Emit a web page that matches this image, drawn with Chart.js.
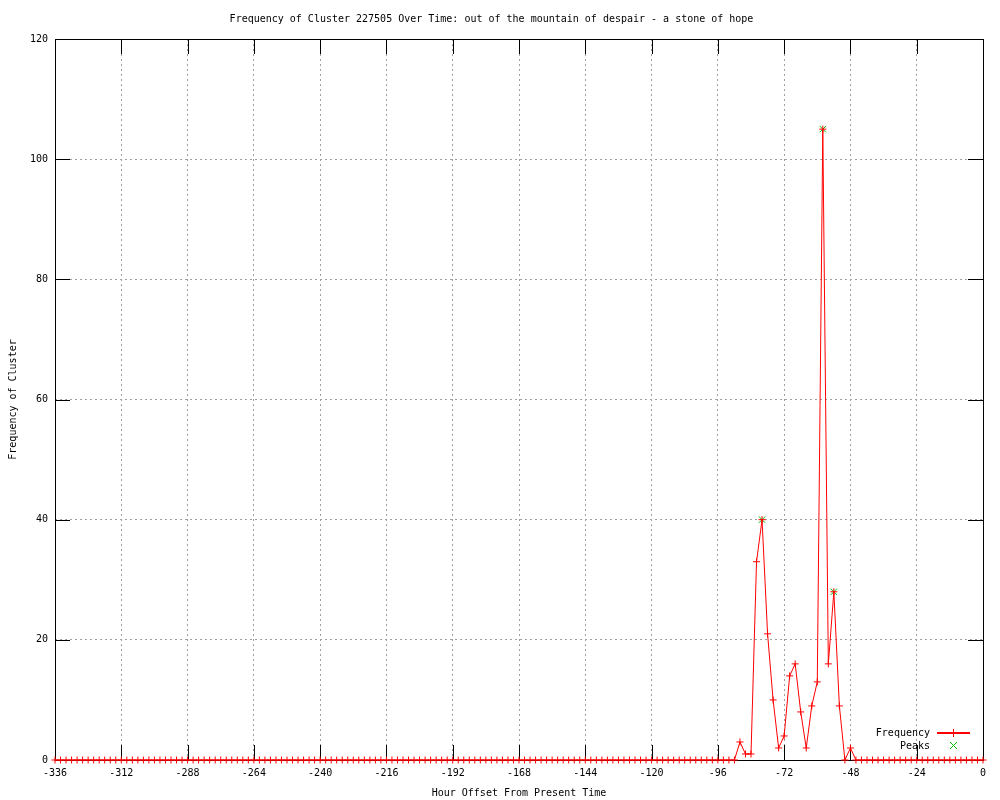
<!DOCTYPE html>
<html><head><meta charset="utf-8">
<script src="https://cdn.jsdelivr.net/npm/chart.js@4.4.0/dist/chart.umd.min.js"></script>
<style>html,body{margin:0;padding:0;background:#fff}#wrap{width:1000px;height:800px}</style>
</head><body><div id="wrap"><canvas id="c" width="1000" height="800"></canvas></div>
<script>
const titleText = 'Frequency of Cluster 227505 Over Time: out of the mountain of despair - a stone of hope';
const xTitle = 'Hour Offset From Present Time';
const yTitle = 'Frequency of Cluster';

const hours = [
  -336,-334,-332,-330,-328,-326,-324,-322,-320,-318,-316,-314,
  -312,-310,-308,-306,-304,-302,-300,-298,-296,-294,-292,-290,
  -288,-286,-284,-282,-280,-278,-276,-274,-272,-270,-268,-266,
  -264,-262,-260,-258,-256,-254,-252,-250,-248,-246,-244,-242,
  -240,-238,-236,-234,-232,-230,-228,-226,-224,-222,-220,-218,
  -216,-214,-212,-210,-208,-206,-204,-202,-200,-198,-196,-194,
  -192,-190,-188,-186,-184,-182,-180,-178,-176,-174,-172,-170,
  -168,-166,-164,-162,-160,-158,-156,-154,-152,-150,-148,-146,
  -144,-142,-140,-138,-136,-134,-132,-130,-128,-126,-124,-122,
  -120,-118,-116,-114,-112,-110,-108,-106,-104,-102,-100,-98,
  -96,-94,-92,-90,-88,-86,-84,-82,-80,-78,-76,-74,
  -72,-70,-68,-66,-64,-62,-60,-58,-56,-54,-52,-50,
  -48,-46,-44,-42,-40,-38,-36,-34,-32,-30,-28,-26,
  -24,-22,-20,-18,-16,-14,-12,-10,-8,-6,-4,-2,
  0
];
const frequency = [
  0,0,0,0,0,0,0,0,0,0,0,0,
  0,0,0,0,0,0,0,0,0,0,0,0,
  0,0,0,0,0,0,0,0,0,0,0,0,
  0,0,0,0,0,0,0,0,0,0,0,0,
  0,0,0,0,0,0,0,0,0,0,0,0,
  0,0,0,0,0,0,0,0,0,0,0,0,
  0,0,0,0,0,0,0,0,0,0,0,0,
  0,0,0,0,0,0,0,0,0,0,0,0,
  0,0,0,0,0,0,0,0,0,0,0,0,
  0,0,0,0,0,0,0,0,0,0,0,0,
  0,0,0,0,3,1,1,33,40,21,10,2,
  4,14,16,8,2,9,13,105,16,28,9,0,
  2,0,0,0,0,0,0,0,0,0,0,0,
  0,0,0,0,0,0,0,0,0,0,0,0,
  0
];
const peakHours = [-80, -58, -54];
const peakValues = [40, 105, 28];
const xTickValues = [-336,-312,-288,-264,-240,-216,-192,-168,-144,-120,-96,-72,-48,-24,0];
const yTickValues = [0,20,40,60,80,100,120];

Chart.defaults.font.family = 'DejaVu Sans Mono';
Chart.defaults.font.size = 10;
Chart.defaults.color = '#000';

const framePlugin = {
  id: 'frame',
  beforeDatasetsDraw(chart) {
    const {ctx, chartArea: a, scales} = chart;
    ctx.save();
    ctx.setLineDash([]);
    ctx.strokeStyle = '#000';
    ctx.lineWidth = 1;
    ctx.beginPath();
    const T = 15;
    scales.x.ticks.forEach(t => {
      const px = Math.round(scales.x.getPixelForValue(t.value)) + 0.5;
      ctx.moveTo(px, a.bottom); ctx.lineTo(px, a.bottom - T);
      ctx.moveTo(px, a.top); ctx.lineTo(px, a.top + T);
    });
    scales.y.ticks.forEach(t => {
      const py = Math.round(scales.y.getPixelForValue(t.value)) + 0.5;
      ctx.moveTo(a.left, py); ctx.lineTo(a.left + T, py);
      ctx.moveTo(a.right, py); ctx.lineTo(a.right - T, py);
    });
    ctx.stroke();
    ctx.strokeRect(Math.round(a.left) + 0.5, Math.round(a.top) + 0.5,
                   Math.round(a.right - a.left), Math.round(a.bottom - a.top));
    ctx.restore();
  },
  afterDraw(chart) {
    const {ctx} = chart;
    const ds = chart.data.datasets;
    ctx.save();
    ctx.setLineDash([]);
    ctx.font = '10px "DejaVu Sans Mono"';
    ctx.fillStyle = '#000';
    ctx.textAlign = 'right';
    ctx.textBaseline = 'middle';
    ctx.fillText(ds[0].label, 930, 733);
    ctx.fillText(ds[1].label, 930, 746);
    ctx.strokeStyle = 'rgb(255,0,0)';
    ctx.lineWidth = 2;
    ctx.beginPath();
    ctx.moveTo(937, 733); ctx.lineTo(970, 733);
    ctx.stroke();
    ctx.lineWidth = 1;
    ctx.beginPath();
    ctx.moveTo(953.5, 729); ctx.lineTo(953.5, 737);
    ctx.stroke();
    ctx.strokeStyle = 'rgb(0,192,0)';
    ctx.beginPath();
    ctx.moveTo(950, 742); ctx.lineTo(957, 749);
    ctx.moveTo(957, 742); ctx.lineTo(950, 749);
    ctx.stroke();
    ctx.restore();
  }
};

new Chart(document.getElementById('c'), {
  type: 'line',
  data: {
    datasets: [
      {
        label: 'Frequency',
        data: hours.map((h, i) => ({x: h, y: frequency[i]})),
        borderColor: '#ff0000',
        backgroundColor: '#ff0000',
        borderWidth: 1,
        tension: 0,
        pointStyle: 'cross',
        pointRadius: 3.5,
        pointBorderWidth: 1,
        pointBorderColor: '#ff0000',
        clip: false
      },
      {
        label: 'Peaks',
        data: peakHours.map((h, i) => ({x: h, y: peakValues[i]})),
        showLine: false,
        borderColor: '#00c000',
        backgroundColor: '#00c000',
        pointStyle: 'crossRot',
        pointRadius: 4.5,
        pointBorderWidth: 1,
        pointBorderColor: '#00c000',
        clip: false
      }
    ]
  },
  options: {
    responsive: false,
    animation: false,
    devicePixelRatio: 1,
    layout: {padding: {left: 0, right: 17, top: 0, bottom: 0}},
    plugins: {
      legend: {display: false},
      tooltip: {enabled: false},
      title: {
        display: true,
        text: titleText,
        color: '#000',
        font: {family: 'DejaVu Sans Mono', size: 10, weight: 'normal'},
        padding: {top: 13, bottom: 14}
      }
    },
    scales: {
      x: {
        type: 'linear',
        min: -336, max: 0,
        afterBuildTicks: s => { s.ticks = xTickValues.map(v => ({value: v})); },
        afterFit: s => { s.height = 40; },
        ticks: {padding: 7, maxRotation: 0, autoSkip: false, color: '#000'},
        grid: {color: '#a0a0a0', lineWidth: 1, drawTicks: false},
        border: {display: false, dash: [2, 3]},
        title: {display: true, text: xTitle, color: '#000', padding: {top: 0, bottom: 1}}
      },
      y: {
        type: 'linear',
        min: 0, max: 120,
        afterBuildTicks: s => { s.ticks = yTickValues.map(v => ({value: v})); },
        afterFit: s => { s.width = 55; },
        ticks: {padding: 7, color: '#000'},
        grid: {color: '#a0a0a0', lineWidth: 1, drawTicks: false},
        border: {display: false, dash: [2, 3]},
        title: {display: true, text: yTitle, color: '#000', padding: {top: 7, bottom: 0}}
      }
    }
  },
  plugins: [framePlugin]
});
</script>
</body></html>
